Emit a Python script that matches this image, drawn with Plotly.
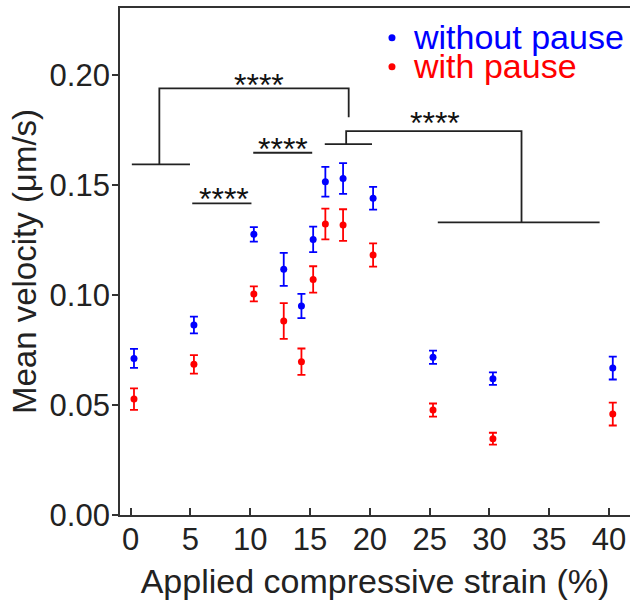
import plotly.graph_objects as go

# ---- data ----
strain = [0.28, 5.29, 10.3, 12.8, 14.28, 15.26, 16.28, 17.76, 20.27, 25.28, 30.29, 40.31]
v_without = [0.0712, 0.0864, 0.1276, 0.1117, 0.0950, 0.1253, 0.1515, 0.1530, 0.1440, 0.0717, 0.0620, 0.0668]
err_without = [0.0043, 0.0038, 0.0033, 0.0075, 0.0055, 0.0058, 0.0068, 0.0070, 0.0052, 0.0030, 0.0028, 0.0052]
v_with = [0.0527, 0.0685, 0.1005, 0.0882, 0.0697, 0.1071, 0.1323, 0.1318, 0.1182, 0.0477, 0.0347, 0.0459]
err_with = [0.0049, 0.0042, 0.0034, 0.0081, 0.0060, 0.0060, 0.0070, 0.0072, 0.0053, 0.0030, 0.0027, 0.0052]

x_ticks = [0, 5, 10, 15, 20, 25, 30, 35, 40]
y_ticks = [0.00, 0.05, 0.10, 0.15, 0.20]

# significance brackets: polylines (x list, y list) in data units
bracket_lines = [
    ([0.1, 4.96], [0.1594, 0.1594]),
    ([2.4, 2.4, 18.23, 18.23], [0.1594, 0.194, 0.194, 0.1808]),
    ([5.15, 10.1], [0.1417, 0.1417]),
    ([10.25, 15.18], [0.1647, 0.1647]),
    ([16.23, 20.18], [0.1686, 0.1686]),
    ([18.02, 18.02, 32.68, 32.68], [0.1686, 0.1745, 0.1745, 0.1330]),
    ([25.68, 39.21], [0.1330, 0.1330]),
]
star_x = [10.69, 7.77, 12.75, 25.47]
star_y = [0.1982, 0.1464, 0.1691, 0.1809]
star_text = "****"

legend_names = ["without pause", "with pause"]
legend_colors = ["#0000ff", "#ff0000"]
legend_dot_x = 21.85
legend_dot_y = [0.2170, 0.2038]
legend_text_x = 23.4
legend_text_y = [0.2175, 0.2043]

FONT = "Liberation Sans, Arial, sans-serif"

fig = go.Figure()

for name, vals, errs, col in [("without pause", v_without, err_without, "#0000ff"),
                              ("with pause", v_with, err_with, "#ff0000")]:
    fig.add_trace(go.Scatter(
        x=strain, y=vals, mode="markers", name=name,
        marker=dict(color=col, size=7),
        error_y=dict(type="data", array=errs, visible=True, color=col, thickness=1.8, width=4),
        showlegend=False,
    ))

for xs, ys in bracket_lines:
    fig.add_trace(go.Scatter(x=xs, y=ys, mode="lines", line=dict(color="#222222", width=1.8),
                             showlegend=False, hoverinfo="skip"))

for sx, sy in zip(star_x, star_y):
    fig.add_annotation(x=sx, y=sy, text=star_text, showarrow=False, xanchor="center",
                       yanchor="middle", yshift=-6, font=dict(family=FONT, size=32, color="#111111"))

# legend
fig.add_trace(go.Scatter(x=[legend_dot_x] * 2, y=legend_dot_y, mode="markers",
                         marker=dict(color=legend_colors, size=7), showlegend=False, hoverinfo="skip"))
for name, col, ty in zip(legend_names, legend_colors, legend_text_y):
    fig.add_annotation(x=legend_text_x, y=ty, text=name, showarrow=False, xanchor="left",
                       yanchor="middle", font=dict(family=FONT, size=34, color=col))

fig.update_layout(
    width=630, height=600,
    margin=dict(l=120, r=0, t=8, b=85),
    plot_bgcolor="white", paper_bgcolor="white",
    font=dict(family=FONT, color="#222222"),
    showlegend=False,
    xaxis=dict(
        range=[-0.89, 41.75], tickvals=x_ticks, ticktext=[str(t) for t in x_ticks],
        showgrid=False, zeroline=False, showline=True, linecolor="#333333", linewidth=1.8,
        mirror=True, ticks="inside", ticklen=7, tickwidth=1.8, tickcolor="#333333",
        tickfont=dict(size=31, family=FONT, color="#222222"), ticklabelstandoff=-4,
        title=dict(text="Applied compressive strain (%)", font=dict(size=34, family=FONT, color="#222222"), standoff=14),
        automargin=False,
    ),
    yaxis=dict(
        range=[0, 0.2305], tickvals=y_ticks, tickformat=".2f",
        showgrid=False, zeroline=False, showline=True, linecolor="#333333", linewidth=1.8,
        ticks="outside", ticklen=6, tickwidth=1.8, tickcolor="#333333",
        tickfont=dict(size=31, family=FONT, color="#222222"), ticklabelstandoff=-4,
        title=dict(text="Mean velocity (\u03bcm/s)", font=dict(size=33, family=FONT, color="#222222"), standoff=3),
        automargin=False,
    ),
)

fig.write_html("out.html")
